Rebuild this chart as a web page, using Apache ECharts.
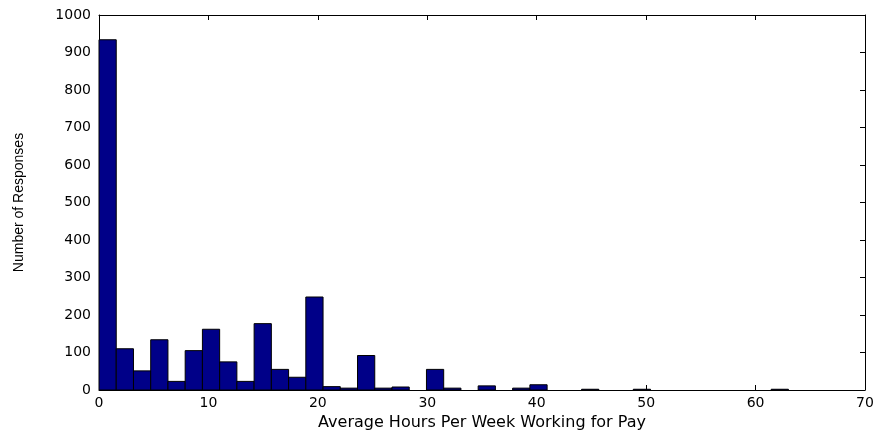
<!DOCTYPE html>
<html><head><meta charset="utf-8">
<script src="https://cdn.jsdelivr.net/npm/echarts@6/dist/echarts.min.js"></script>
<style>html,body{margin:0;padding:0;background:#fff}#c{width:877px;height:432px}</style>
</head><body><div id="c"></div>
<script>
// Histogram: 40 bins from 0 to 63 hours
const binStart = 0;
const binWidth = 1.575;
const counts = [934,110,51,134,23,105,162,75,23,177,55,34,248,9,5,92,5,8,0,55,5,0,11,0,5,14,0,0,2,0,0,2,0,0,0,0,0,0,0,2];
const xTicks = [0,10,20,30,40,50,60,70];
const yTicks = [0,100,200,300,400,500,600,700,800,900,1000];
const xTitle = 'Average Hours Per Week Working for Pay';
const yTitle = 'Number of Responses';

const data = counts.map((c, i) => [binStart + i * binWidth, binStart + (i + 1) * binWidth, c]);
const font = 'DejaVu Sans';
const axisBase = (pos, show) => ({
  position: pos,
  axisLine: {show: true, onZero: false, lineStyle: {color: '#000', width: 1}},
  axisTick: {show: true, inside: true, length: 5, lineStyle: {color: '#000'}},
  axisLabel: {show: show, color: '#000', fontFamily: font, fontSize: 14},
  splitLine: {show: false}
});
const chart = echarts.init(document.getElementById('c'));
chart.setOption({
  animation: false,
  backgroundColor: '#fff',
  grid: {left: 99, right: 12, top: 15, bottom: 42, containLabel: false, outerBoundsMode: 'none'},
  xAxis: [
    Object.assign(axisBase('bottom', true), {type: 'value', min: xTicks[0], max: xTicks[xTicks.length-1], interval: 10,
      name: xTitle, nameLocation: 'middle', nameGap: 24,
      nameTextStyle: {color: '#000', fontFamily: font, fontSize: 16},
      axisLabel: {show: true, color: '#000', fontFamily: font, fontSize: 14, margin: 6, formatter: v => String(v)}}),
    Object.assign(axisBase('top', false), {type: 'value', min: 0, max: 70, interval: 10})
  ],
  yAxis: [
    Object.assign(axisBase('left', true), {type: 'value', min: yTicks[0], max: yTicks[yTicks.length-1], interval: 100,
      name: yTitle, nameLocation: 'middle', nameGap: 73, nameRotate: 90,
      nameTextStyle: {color: '#000', fontFamily: 'Liberation Sans', fontSize: 14},
      axisLabel: {show: true, color: '#000', fontFamily: font, fontSize: 14, margin: 8, formatter: v => String(v)}}),
    Object.assign(axisBase('right', false), {type: 'value', min: 0, max: 1000, interval: 100})
  ],
  series: [{
    type: 'custom',
    xAxisIndex: 0, yAxisIndex: 0,
    data: data,
    encode: {x: [0, 1], y: 2},
    renderItem: function (params, api) {
      const v = api.value(2);
      if (!v) return null;
      const p0 = api.coord([api.value(0), 0]);
      const p1 = api.coord([api.value(1), v]);
      return {
        type: 'rect',
        shape: {x: p0[0], y: p1[1], width: p1[0] - p0[0], height: p0[1] - p1[1]},
        style: {fill: '#000088', stroke: '#000', lineWidth: 1}
      };
    }
  }]
});
</script></body></html>
